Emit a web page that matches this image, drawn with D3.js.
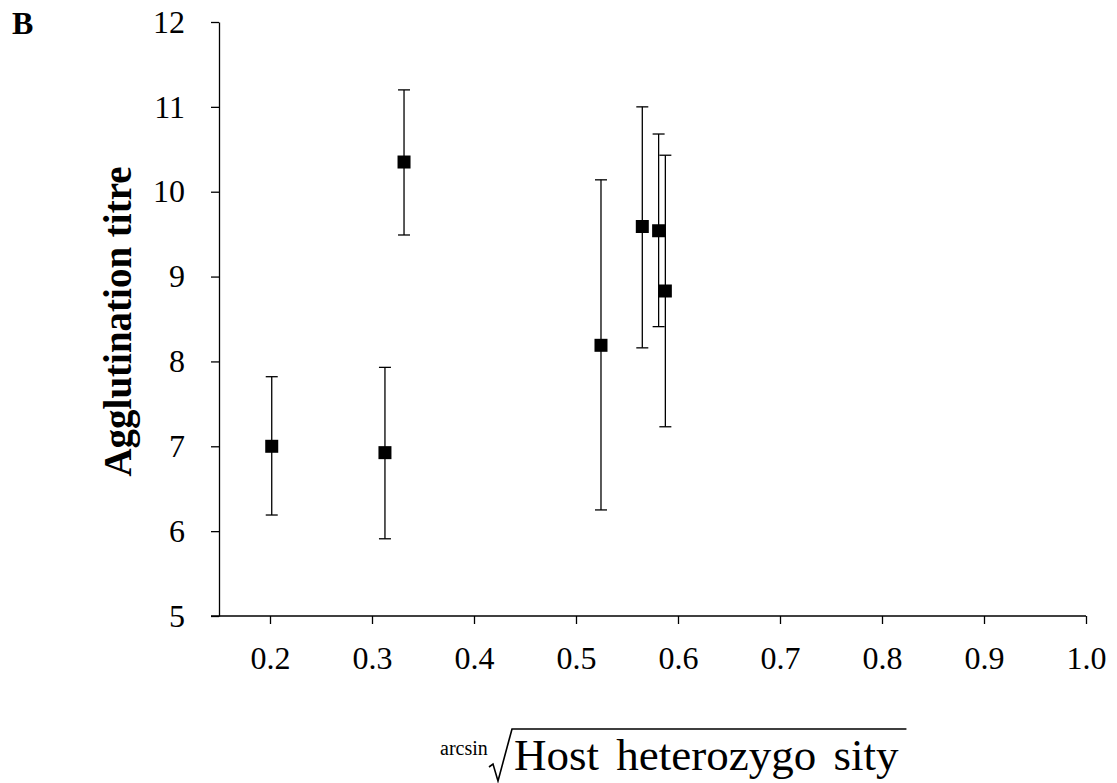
<!DOCTYPE html>
<html>
<head>
<meta charset="utf-8">
<script src="https://d3js.org/d3.v7.min.js"></script>
<style>
  body { margin: 0; background: #fff; }
  svg text { font-family: "Liberation Serif", "Times New Roman", serif; fill: #000; }
</style>
</head>
<body>
<div id="chart"></div>
<script>
// values (panel B)
const heterozygosity = [0.2017, 0.3127, 0.3314, 0.5245, 0.565, 0.581, 0.5876];
const titre          = [7.00, 6.925, 10.35, 8.19, 9.59, 9.54, 8.83];
const errLow         = [6.19, 5.91, 9.49, 6.25, 8.16, 8.41, 7.23];
const errHigh        = [7.82, 7.93, 11.20, 10.14, 11.00, 10.68, 10.43];
const xTicks = [0.2, 0.3, 0.4, 0.5, 0.6, 0.7, 0.8, 0.9, 1.0];
const yTicks = [5, 6, 7, 8, 9, 10, 11, 12];

const width = 1117, height = 783;
const points = heterozygosity.map((h, i) => ({x: h, y: titre[i], lo: errLow[i], hi: errHigh[i]}));

const svg = d3.select('#chart').append('svg')
  .attr('width', width)
  .attr('height', height);

const x = d3.scaleLinear().domain([0.15, 1.0]).range([219, 1086]);
const y = d3.scaleLinear().domain([5, 12]).range([616, 22]);

// x axis
const gx = svg.append('g')
  .attr('transform', `translate(0,${y(5)})`)
  .call(d3.axisBottom(x).tickValues(xTicks).tickFormat(d3.format('.1f')).tickSize(8).tickSizeOuter(0).tickPadding(22));
gx.select('.domain').attr('stroke-width', 1.3).attr('d', `M${x(0.15) - 8},0H${x(1.0)}`);
gx.selectAll('.tick line').attr('stroke-width', 1.3);
gx.selectAll('.tick text').style('font-size', '32px').style('font-family', '"Liberation Serif", serif');

// y axis
const gy = svg.append('g')
  .attr('transform', `translate(${x(0.15)},0)`)
  .call(d3.axisLeft(y).tickValues(yTicks).tickFormat(d3.format('d')).tickSize(8).tickSizeOuter(0).tickPadding(26));
gy.select('.domain').attr('stroke-width', 1.3);
gy.selectAll('.tick line').attr('stroke-width', 1.3);
gy.selectAll('.tick text').style('font-size', '32px').style('font-family', '"Liberation Serif", serif');

// error bars
const capW = 6;
const eb = svg.append('g').attr('stroke', '#000').attr('stroke-width', 1.3);
eb.selectAll('line.v').data(points).enter().append('line')
  .attr('x1', d => x(d.x)).attr('x2', d => x(d.x))
  .attr('y1', d => y(d.lo)).attr('y2', d => y(d.hi));
eb.selectAll('line.top').data(points).enter().append('line')
  .attr('x1', d => x(d.x) - capW).attr('x2', d => x(d.x) + capW)
  .attr('y1', d => y(d.hi)).attr('y2', d => y(d.hi));
eb.selectAll('line.bot').data(points).enter().append('line')
  .attr('x1', d => x(d.x) - capW).attr('x2', d => x(d.x) + capW)
  .attr('y1', d => y(d.lo)).attr('y2', d => y(d.lo));

// square markers
const sq = 13;
svg.append('g').selectAll('rect').data(points).enter().append('rect')
  .attr('x', d => x(d.x) - sq / 2)
  .attr('y', d => y(d.y) - sq / 2)
  .attr('width', sq).attr('height', sq)
  .attr('fill', '#000');

// panel letter
svg.append('text').attr('x', 12).attr('y', 34)
  .style('font-size', '32px').style('font-weight', 'bold').text('B');

// y title
svg.append('text')
  .attr('transform', `translate(131,${(168 + 475) / 2}) rotate(-90)`)
  .attr('text-anchor', 'middle')
  .style('font-size', '39px').style('font-weight', 'bold')
  .text('Agglutination titre');

// x title: arcsin √(Host heterozygosity)
const xt = svg.append('g');
xt.append('text').attr('x', 440).attr('y', 755).style('font-size', '20px').text('arcsin');
const main = xt.append('text').attr('x', 514).attr('y', 770)
  .style('font-size', '45px').style('word-spacing', '6px').text('Host heterozygo sity');
const tw = main.node().getComputedTextLength();
xt.append('path')
  .attr('d', `M489,767 L493,764 L498,781 L512,729 H${514 + tw + 8}`)
  .attr('fill', 'none').attr('stroke', '#000').attr('stroke-width', 1.6);
</script>
</body>
</html>
